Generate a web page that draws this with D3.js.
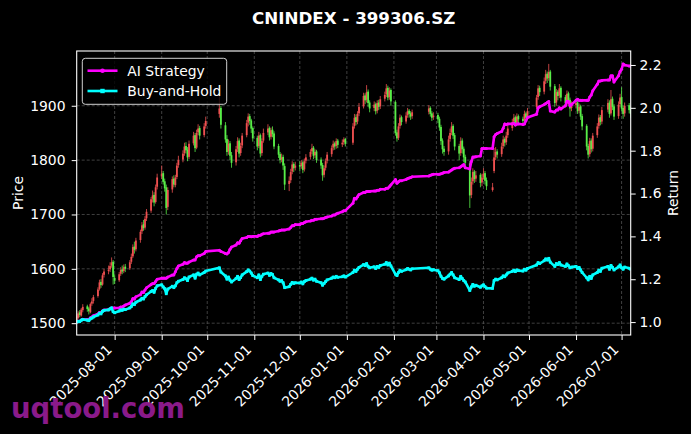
<!DOCTYPE html>
<html><head><meta charset="utf-8">
<script src="https://cdn.jsdelivr.net/npm/d3@7"></script>
<style>html,body{margin:0;padding:0;background:#000;}svg{display:block;}</style>
</head><body>
<svg id="chart" width="691" height="434"></svg>
<script>
// ---------------- data ----------------
const chartTitle = "CNINDEX - 399306.SZ";
const firstDay = "2025-07-07", lastDay = "2026-07-07";
const holidays = ["2025-10-01","2025-10-02","2025-10-03","2025-10-06","2025-10-07","2025-10-08",
  "2026-01-01","2026-01-02","2026-02-16","2026-02-17","2026-02-18","2026-02-19","2026-02-20","2026-02-23",
  "2026-04-06","2026-05-01","2026-05-04","2026-05-05","2026-06-19"];
const monthTicks = ["2025-08-01","2025-09-01","2025-10-01","2025-11-01","2025-12-01","2026-01-01",
  "2026-02-01","2026-03-01","2026-04-01","2026-05-01","2026-06-01","2026-07-01"];
const priceTicks = [1500,1600,1700,1800,1900];
const returnTicks = [1.0,1.2,1.4,1.6,1.8,2.0,2.2];
const seriesNames = ["AI Strategy","Buy-and-Hold"];

// daily candles [open, high, low, close]
const ohlcJul25 = [[1505,1516,1502,1512],[1510,1522,1508,1518],[1520,1524,1511,1515],[1514,1528,1512,1525],[1524,1535,1520,1530],
 [1531,1534,1521,1526],[1527,1530,1516,1522],[1520,1538,1518,1535],[1536,1546,1532,1540],[1541,1552,1536,1548],
 [1550,1566,1547,1562],[1563,1580,1560,1575],[1576,1581,1565,1570],[1571,1592,1569,1588],[1589,1600,1584,1595],
 [1596,1606,1590,1598],[1599,1612,1594,1605],[1606,1621,1602,1612],[1613,1616,1571,1585]];
const ohlcAug25 = [[1583,1590,1572,1578],[1579,1594,1576,1590],[1591,1603,1587,1598],[1599,1606,1590,1595],[1596,1608,1592,1603],
 [1604,1609,1594,1600],[1601,1616,1598,1612],[1613,1628,1609,1622],[1623,1645,1620,1640],[1641,1650,1628,1635],
 [1636,1657,1632,1652],[1653,1672,1648,1668],[1669,1686,1664,1680],[1682,1690,1670,1675],[1676,1697,1672,1692],
 [1693,1710,1688,1705],[1707,1732,1703,1728],[1729,1744,1722,1735],[1736,1741,1715,1722],[1723,1755,1720,1750],
 [1751,1775,1746,1768]];
const ohlcSep25 = [[1770,1790,1765,1775],[1776,1780,1755,1760],[1761,1766,1742,1748],[1750,1755,1700,1712],[1714,1750,1708,1745],
 [1746,1770,1740,1765],[1766,1772,1750,1755],[1754,1773,1750,1768],[1769,1795,1765,1790],[1791,1808,1786,1800],
 [1801,1818,1796,1812],[1813,1832,1808,1825],[1826,1833,1812,1818],[1819,1824,1798,1805],[1806,1836,1802,1830],
 [1831,1852,1827,1845],[1846,1850,1815,1822],[1823,1856,1820,1850],[1851,1866,1846,1858],[1859,1863,1838,1845],
 [1846,1868,1842,1862],[1863,1880,1858,1872]];
const ohlcOct25 = [[1885,1925,1878,1895],[1896,1900,1858,1865],[1864,1870,1832,1838],[1839,1846,1808,1815],[1816,1838,1810,1830],
 [1831,1835,1800,1808],[1809,1815,1786,1795],[1796,1826,1790,1820],[1821,1842,1815,1835],[1836,1840,1805,1812],
 [1813,1832,1808,1826],[1827,1850,1822,1845],[1846,1874,1842,1868],[1869,1886,1862,1880],[1881,1885,1865,1872],
 [1873,1876,1850,1858],[1859,1862,1834,1840]];
const ohlcNov25 = [[1841,1845,1818,1825],[1826,1852,1822,1845],[1846,1849,1805,1812],[1813,1840,1808,1835],[1836,1858,1832,1850],
 [1851,1866,1846,1858],[1859,1862,1836,1842],[1843,1860,1838,1855],[1856,1862,1842,1848],[1849,1853,1820,1825],
 [1826,1830,1804,1810],[1811,1815,1794,1800],[1801,1812,1796,1805],[1806,1810,1782,1790],[1789,1794,1745,1755],
 [1756,1770,1743,1762],[1763,1784,1758,1778],[1779,1798,1774,1792],[1793,1796,1778,1785],[1786,1797,1781,1790]];
const ohlcDec25 = [[1791,1798,1780,1788],[1789,1800,1784,1795],[1796,1799,1776,1782],[1783,1803,1779,1798],[1799,1811,1794,1805],
 [1806,1820,1801,1815],[1816,1830,1811,1822],[1823,1826,1802,1808],[1809,1820,1804,1815],[1816,1819,1795,1800],
 [1801,1805,1784,1790],[1791,1795,1762,1772],[1773,1790,1768,1785],[1786,1803,1781,1798],[1799,1815,1794,1810],
 [1811,1827,1806,1822],[1823,1836,1818,1830],[1831,1834,1819,1825],[1826,1840,1821,1835],[1836,1839,1822,1828],
 [1829,1838,1824,1832],[1833,1842,1828,1838],[1839,1841,1825,1830]];
const ohlcJan26 = [[1832,1868,1828,1862],[1863,1885,1858,1878],[1879,1884,1864,1870],[1871,1890,1866,1885],[1886,1905,1881,1898],
 [1899,1924,1895,1918],[1919,1923,1903,1910],[1911,1938,1906,1925],[1926,1930,1898,1905],[1906,1910,1888,1895],
 [1896,1908,1890,1902],[1903,1906,1884,1890],[1891,1910,1886,1905],[1906,1911,1892,1898],[1899,1918,1894,1912],
 [1913,1926,1908,1920],[1921,1940,1916,1932],[1933,1937,1910,1915],[1916,1934,1911,1928],[1929,1932,1900,1908]];
const ohlcFeb26 = [[1907,1910,1845,1850],[1851,1856,1834,1840],[1841,1868,1837,1862],[1863,1884,1858,1878],[1879,1882,1864,1870],
 [1871,1888,1867,1882],[1883,1896,1878,1890],[1891,1894,1878,1885],[1886,1890,1874,1880],[1881,1893,1876,1888],
 [1889,1901,1884,1895],[1896,1899,1880,1885],[1886,1890,1872,1878],[1879,1888,1874,1882]];
const ohlcMar26 = [[1883,1887,1868,1875],[1876,1880,1854,1860],[1861,1865,1828,1835],[1836,1840,1812,1820],[1821,1826,1808,1815],
 [1816,1845,1810,1838],[1839,1858,1834,1850],[1851,1870,1846,1862],[1863,1866,1839,1845],[1846,1850,1818,1825],
 [1826,1830,1800,1812],[1813,1842,1808,1835],[1836,1840,1812,1820],[1821,1825,1796,1805],[1806,1810,1785,1795],
 [1794,1798,1712,1735],[1736,1768,1730,1760],[1761,1785,1755,1778],[1779,1782,1758,1765],[1766,1780,1760,1772],
 [1773,1776,1750,1758],[1759,1775,1752,1768]];
const ohlcApr26 = [[1769,1785,1764,1775],[1776,1780,1755,1762],[1763,1768,1745,1752],[1745,1758,1742,1750],[1780,1822,1776,1805],
 [1806,1824,1800,1815],[1816,1820,1803,1810],[1811,1832,1806,1825],[1826,1845,1821,1838],[1839,1842,1825,1832],
 [1833,1852,1828,1845],[1846,1864,1841,1858],[1859,1876,1854,1870],[1871,1885,1866,1878],[1879,1882,1862,1868],
 [1869,1886,1864,1880],[1881,1884,1868,1875],[1876,1880,1865,1872],[1873,1891,1868,1885],[1886,1889,1872,1878],
 [1879,1896,1874,1890]];
const ohlcMay26 = [[1898,1920,1894,1915],[1916,1938,1911,1932],[1933,1937,1918,1925],[1926,1952,1921,1945],[1946,1966,1940,1958],
 [1959,1963,1942,1950],[1951,1977,1946,1962],[1963,1966,1928,1935],[1936,1940,1898,1905],[1906,1931,1900,1925],
 [1926,1929,1910,1918],[1919,1940,1914,1932],[1933,1936,1908,1915],[1916,1920,1897,1905],[1906,1928,1901,1922],
 [1923,1926,1904,1910],[1911,1915,1880,1895],[1896,1908,1890,1900]];
const ohlcJun26 = [[1901,1912,1896,1905],[1906,1909,1885,1890],[1891,1904,1886,1898],[1899,1902,1874,1880],[1881,1885,1855,1862],
 [1863,1866,1818,1825],[1826,1830,1803,1810],[1811,1841,1806,1835],[1836,1840,1814,1820],[1821,1850,1816,1845],
 [1846,1868,1841,1862],[1863,1884,1858,1878],[1879,1883,1864,1870],[1871,1898,1866,1892],[1893,1912,1888,1905],
 [1906,1910,1878,1885],[1886,1929,1882,1912],[1913,1917,1892,1898],[1899,1903,1874,1880],[1881,1908,1876,1902],
 [1903,1922,1898,1915]];
const ohlcJul26 = [[1916,1934,1890,1895],[1896,1900,1876,1885],[1886,1906,1880,1900],[1901,1905,1886,1892],[1893,1898,1878,1885]];

// AI strategy cumulative return per trading day
const stratJul25 = [1.0,1.004,1.004,1.01,1.013,1.012,1.012,1.02,1.024,1.03,1.038,1.045,1.045,1.052,1.056,1.058,1.062,1.066,1.066];
const stratAug25 = [1.066,1.066,1.07,1.07,1.075,1.08,1.088,1.095,1.11,1.108,1.118,1.128,1.14,1.138,1.15,1.16,1.175,1.18,1.18,1.19,1.2];
const stratSep25 = [1.205,1.205,1.205,1.205,1.21,1.22,1.22,1.235,1.25,1.262,1.27,1.278,1.275,1.275,1.28,1.29,1.29,1.305,1.31,1.31,1.32,1.33];
const stratOct25 = [1.335,1.33,1.32,1.318,1.325,1.34,1.35,1.36,1.37,1.368,1.38,1.39,1.395,1.40,1.40,1.398,1.40];
const stratNov25 = [1.40,1.405,1.405,1.41,1.412,1.415,1.415,1.42,1.42,1.42,1.425,1.428,1.43,1.43,1.43,1.435,1.442,1.45,1.45,1.455];
const stratDec25 = [1.455,1.46,1.46,1.465,1.468,1.472,1.475,1.475,1.48,1.48,1.482,1.482,1.485,1.488,1.49,1.495,1.50,1.50,1.505,1.508,1.515,1.52,1.52];
const stratJan26 = [1.555,1.578,1.575,1.585,1.595,1.605,1.605,1.61,1.61,1.61,1.612,1.612,1.615,1.615,1.62,1.62,1.625,1.625,1.632,1.64];
const stratFeb26 = [1.665,1.648,1.655,1.66,1.66,1.665,1.67,1.672,1.675,1.678,1.682,1.685,1.688,1.69];
const stratMar26 = [1.69,1.69,1.692,1.695,1.698,1.70,1.705,1.71,1.715,1.718,1.72,1.725,1.73,1.735,1.72,1.715,1.75,1.77,1.77,1.772,1.775,1.81];
const stratApr26 = [1.81,1.81,1.81,1.81,1.865,1.875,1.88,1.89,1.905,1.925,1.922,1.925,1.925,1.928,1.92,1.925,1.925,1.922,1.925,1.94,1.955];
const stratMay26 = [1.97,2.0,2.005,2.015,2.02,2.025,2.03,1.985,1.98,1.99,1.99,2.0,1.995,2.01,2.03,2.03,2.01,2.015];
const stratJun26 = [2.035,2.04,2.035,2.035,2.035,2.035,2.035,2.05,2.06,2.08,2.11,2.125,2.125,2.128,2.13,2.13,2.15,2.15,2.12,2.15,2.17];
const stratJul26 = [2.18,2.205,2.2,2.195,2.195];

// ---------------- build ----------------
const parse = d3.utcParse("%Y-%m-%d");
const fmt = d3.utcFormat("%Y-%m-%d");
const holidaySet = new Set(holidays);
const dates = d3.utcDay.range(parse(firstDay), d3.utcDay.offset(parse(lastDay), 1))
  .filter(d => d.getUTCDay() > 0 && d.getUTCDay() < 6 && !holidaySet.has(fmt(d)));
const ohlc = [].concat(ohlcJul25, ohlcAug25, ohlcSep25, ohlcOct25, ohlcNov25, ohlcDec25, ohlcJan26,
  ohlcFeb26, ohlcMar26, ohlcApr26, ohlcMay26, ohlcJun26, ohlcJul26);
const strat = [].concat(stratJul25, stratAug25, stratSep25, stratOct25, stratNov25, stratDec25, stratJan26,
  stratFeb26, stratMar26, stratApr26, stratMay26, stratJun26, stratJul26);
const n = Math.min(dates.length, ohlc.length, strat.length);
const candles = d3.range(n).map(i => ({date: dates[i], o: ohlc[i][0], h: ohlc[i][1], l: ohlc[i][2], c: ohlc[i][3]}));
const base = candles[0].c;
const stratPts = candles.map((d, i) => ({date: d.date, v: strat[i]}));
const bhPts = candles.map(d => ({date: d.date, v: d.c / base}));

const W = 691, H = 434;
const m = {l: 76.7, r: 630.7, t: 51, b: 335};
const FONT = "DejaVu Sans, Verdana, sans-serif";
const svg = d3.select("#chart");
svg.append("rect").attr("width", W).attr("height", H).attr("fill", "#000");

function padded(lo, hi) { const p = (hi - lo) * 0.05; return [lo - p, hi + p]; }
const x = d3.scaleUtc().domain([dates[0], dates[n - 1]]).range([m.l, m.r]);
const yP = d3.scaleLinear().domain(padded(d3.min(candles, d => d.l), d3.max(candles, d => d.h))).range([m.b, m.t]);
const allRet = stratPts.map(d => d.v).concat(bhPts.map(d => d.v));
const yR = d3.scaleLinear().domain(padded(d3.min(allRet), d3.max(allRet))).range([m.b, m.t]);
const monthDates = monthTicks.map(parse);

svg.append("defs").append("clipPath").attr("id", "plotclip")
  .append("rect").attr("x", m.l).attr("y", m.t).attr("width", m.r - m.l).attr("height", m.b - m.t);

// grid
const grid = svg.append("g");
grid.selectAll("line.v").data(monthDates).join("line")
  .attr("x1", d => x(d)).attr("x2", d => x(d)).attr("y1", m.t).attr("y2", m.b);
grid.selectAll("line.h").data(priceTicks).join("line")
  .attr("x1", m.l).attr("x2", m.r).attr("y1", d => yP(d)).attr("y2", d => yP(d));
grid.selectAll("line").attr("stroke", "#5a5a5a").attr("stroke-width", 0.7).attr("stroke-dasharray", "3,2");

// candles
const UP = "#ee5050", DOWN = "#58ee48";
const cg = svg.append("g").attr("clip-path", "url(#plotclip)");
cg.selectAll("line.wick").data(candles).join("line").attr("class", "wick")
  .attr("x1", d => x(d.date)).attr("x2", d => x(d.date))
  .attr("y1", d => yP(d.h)).attr("y2", d => yP(d.l))
  .attr("stroke", d => d.c >= d.o ? UP : DOWN).attr("stroke-width", 0.8);
cg.selectAll("rect.body").data(candles).join("rect").attr("class", "body")
  .attr("x", d => x(d.date) - 0.9).attr("width", 1.8)
  .attr("y", d => yP(Math.max(d.o, d.c)))
  .attr("height", d => Math.max(0.6, Math.abs(yP(d.o) - yP(d.c))))
  .attr("fill", d => d.c >= d.o ? UP : DOWN);

// lines with small markers
const line = d3.line().x(d => x(d.date)).y(d => yR(d.v));
const lg = svg.append("g").attr("clip-path", "url(#plotclip)");
lg.append("path").datum(stratPts).attr("d", line).attr("fill", "none")
  .attr("stroke", "#ff00ff").attr("stroke-width", 2.6).attr("stroke-linejoin", "round");
lg.selectAll("circle.sm").data(stratPts).join("circle").attr("class", "sm")
  .attr("cx", d => x(d.date)).attr("cy", d => yR(d.v)).attr("r", 1.5).attr("fill", "#ff00ff");
lg.append("path").datum(bhPts).attr("d", line).attr("fill", "none")
  .attr("stroke", "#00ffff").attr("stroke-width", 2.6).attr("stroke-linejoin", "round");
lg.selectAll("rect.bm").data(bhPts).join("rect").attr("class", "bm")
  .attr("x", d => x(d.date) - 1.4).attr("y", d => yR(d.v) - 1.4).attr("width", 2.8).attr("height", 2.8).attr("fill", "#00ffff");

// axes
function styleAxis(g) {
  g.select(".domain").remove();
  g.selectAll(".tick line").attr("stroke", "#fff").attr("stroke-width", 1);
  g.selectAll(".tick text").attr("fill", "#fff").attr("font-family", FONT).attr("font-size", 13.9);
}
svg.append("g").attr("transform", `translate(${m.l},0)`)
  .call(d3.axisLeft(yP).tickValues(priceTicks).tickSize(5).tickPadding(6.2).tickFormat(d3.format("d")))
  .call(styleAxis);
svg.append("g").attr("transform", `translate(${m.r},0)`)
  .call(d3.axisRight(yR).tickValues(returnTicks).tickSize(5).tickPadding(3.8).tickFormat(d3.format(".1f")))
  .call(styleAxis);
const xa = svg.append("g").attr("transform", `translate(0,${m.b})`)
  .call(d3.axisBottom(x).tickValues(monthDates).tickSize(5).tickFormat(fmt))
  .call(styleAxis);
xa.selectAll(".tick text").attr("x", 0).attr("y", 0).attr("dy", null)
  .attr("text-anchor", "end").attr("transform", "translate(-2.5,15.5) rotate(-45)");

// frame
svg.append("rect").attr("x", m.l).attr("y", m.t).attr("width", m.r - m.l).attr("height", m.b - m.t)
  .attr("fill", "none").attr("stroke", "#fff").attr("stroke-width", 1.1);

// labels
svg.append("text").attr("x", (m.l + m.r) / 2).attr("y", 24).attr("text-anchor", "middle")
  .attr("font-family", FONT).attr("font-size", 16.7).attr("font-weight", "bold").attr("fill", "#fff").text(chartTitle);
svg.append("text").attr("transform", `translate(17.5,${(m.t + m.b) / 2}) rotate(-90)`).attr("text-anchor", "middle")
  .attr("dominant-baseline", "central").attr("font-family", FONT).attr("font-size", 13.9).attr("fill", "#fff").text("Price");
svg.append("text").attr("transform", `translate(673.3,${(m.t + m.b) / 2}) rotate(-90)`).attr("text-anchor", "middle")
  .attr("dominant-baseline", "central").attr("font-family", FONT).attr("font-size", 13.9).attr("fill", "#fff").text("Return");

// legend
const leg = svg.append("g");
leg.append("rect").attr("x", 82.3).attr("y", 58.3).attr("width", 144.4).attr("height", 46).attr("rx", 3)
  .attr("fill", "#000").attr("fill-opacity", 0.8).attr("stroke", "#d0d0d0").attr("stroke-width", 1);
const legColors = ["#ff00ff", "#00ffff"];
seriesNames.forEach((name, i) => {
  const yy = 70.7 + i * 20.3;
  leg.append("line").attr("x1", 87.5).attr("x2", 117.5).attr("y1", yy).attr("y2", yy)
    .attr("stroke", legColors[i]).attr("stroke-width", 2.6);
  if (i === 0) leg.append("circle").attr("cx", 102.5).attr("cy", yy).attr("r", 2.3).attr("fill", legColors[i]);
  else leg.append("rect").attr("x", 100.3).attr("y", yy - 2.2).attr("width", 4.4).attr("height", 4.4).attr("fill", legColors[i]);
  leg.append("text").attr("x", 127.3).attr("y", yy + 5).attr("font-family", FONT).attr("font-size", 13.9)
    .attr("fill", "#fff").text(name);
});

// watermark
svg.append("text").attr("x", 11).attr("y", 418).attr("font-family", FONT).attr("font-weight", "bold")
  .attr("font-size", 27.5).attr("fill", "#8a1a8a").text("uqtool.com");
</script>
</body></html>
